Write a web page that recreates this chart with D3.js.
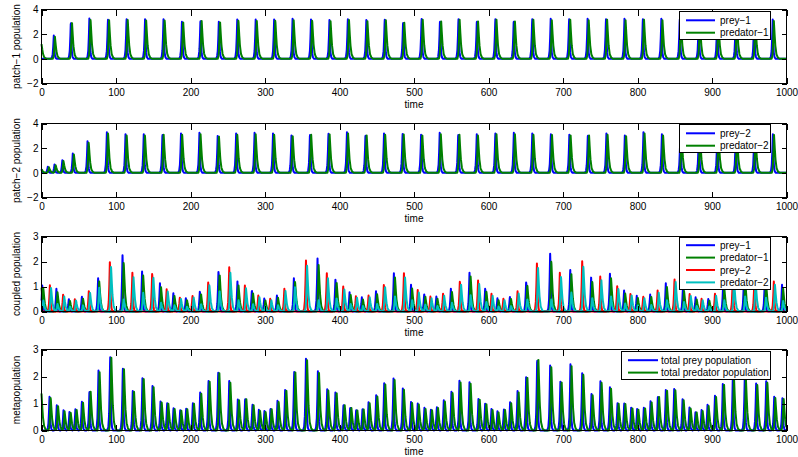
<!DOCTYPE html>
<html>
<head>
<meta charset="utf-8">
<script src="https://cdn.jsdelivr.net/npm/d3@7"></script>
<style>
  html, body { margin: 0; padding: 0; background: #fff; }
  svg { display: block; }
</style>
</head>
<body>
<svg id="chart" width="798" height="457"></svg>
<script>
// ---------------- data ----------------
const timeTicks = [0, 100, 200, 300, 400, 500, 600, 700, 800, 900, 1000];
const patchTicks = [-2, 0, 2, 4];
const coupledTicks = [0, 1, 2, 3];

// time by which each predator peak trails its prey peak
const predatorLag = 1.5;

// patch 1 (uncoupled): prey peak times and heights, predator peak heights
const p1PreyTimes = [16.5, 39.4, 64.3, 89.2, 114.2, 139.0, 163.8, 188.6, 213.4, 238.1, 262.8, 287.5, 312.3, 337.0, 361.8, 386.5, 411.2, 436.0, 460.7, 485.4, 510.2, 534.9, 559.7, 584.4, 609.2, 633.9, 658.7, 683.5, 708.2, 733.0, 757.7, 782.5, 807.2, 832.0, 856.7, 882.2, 907.0, 931.8, 956.6, 981.5];
const p1PreyPeaks = [1.89, 3.10, 3.37, 3.29, 3.32, 3.21, 3.32, 3.21, 3.29, 3.21, 3.29, 3.18, 3.29, 3.24, 3.29, 3.15, 3.32, 3.15, 3.29, 3.13, 3.35, 3.24, 3.33, 3.24, 3.33, 3.24, 3.33, 3.24, 3.33, 3.24, 3.33, 3.24, 3.33, 3.24, 3.30, 3.24, 3.30, 3.24, 3.30, 3.18];
const p1PredPeaks = [1.80, 3.00, 3.25, 3.18, 3.21, 3.10, 3.21, 3.10, 3.18, 3.10, 3.18, 3.07, 3.18, 3.13, 3.18, 3.05, 3.21, 3.05, 3.18, 3.03, 3.23, 3.13, 3.22, 3.13, 3.22, 3.13, 3.22, 3.13, 3.22, 3.13, 3.22, 3.13, 3.22, 3.13, 3.19, 3.13, 3.19, 3.13, 3.19, 3.07];
const p1PreyStart = 0;
const p1PredStart = 1.2;

// patch 2 (uncoupled)
const p2PreyTimes = [8.5, 17.5, 28, 42, 61.8, 87.8, 112.8, 137.3, 162.4, 187.3, 212, 236.6, 261.3, 286, 310.8, 335.6, 360.4, 385.2, 410, 434.9, 459.8, 484.7, 509.6, 534.5, 559.4, 584.3, 609.2, 634, 658.8, 683.7, 708.6, 733.4, 758.3, 783.1, 808, 832.8, 857.6, 882.4, 907.2, 932, 956.8, 981.7];
const p2PreyPeaks = [0.49, 0.68, 1.03, 1.57, 2.65, 3.40, 3.24, 3.24, 3.30, 3.30, 3.24, 3.20, 3.30, 3.24, 3.30, 3.24, 3.30, 3.28, 3.30, 3.24, 3.30, 3.27, 3.30, 3.24, 3.30, 3.24, 3.30, 3.24, 3.30, 3.24, 3.30, 3.24, 3.30, 3.24, 3.30, 3.24, 3.30, 3.24, 3.30, 3.24, 3.30, 3.24];
const p2PredPeaks = [0.45, 0.62, 0.95, 1.48, 2.52, 3.28, 3.13, 3.13, 3.19, 3.19, 3.13, 3.09, 3.19, 3.13, 3.19, 3.13, 3.19, 3.17, 3.19, 3.13, 3.19, 3.16, 3.19, 3.13, 3.19, 3.13, 3.19, 3.13, 3.19, 3.13, 3.19, 3.13, 3.19, 3.13, 3.19, 3.13, 3.19, 3.13, 3.19, 3.13, 3.19, 3.13];
const p2PreyStart = 0.28;
const p2PredStart = 0.3;

// coupled patches: prey-1 peaks (with predator-1 and the predator-2 response)
const cPrey1Times = [1, 20, 36.7, 54.2, 76, 108.8, 135, 159, 177, 193.8, 212.6, 237.6, 263, 282.4, 299, 316, 338.8, 370.5, 394.6, 413.5, 430, 449, 473, 496, 513.7, 530, 549.5, 574.5, 595.6, 612, 628.7, 650.6, 682.8, 709.7, 737.8, 763, 782, 799, 817, 838, 861, 878, 895, 915, 943, 971, 994];
const cPrey1Peaks = [1.04, 0.91, 0.51, 0.61, 1.33, 2.32, 1.6, 1.13, 0.73, 0.55, 0.84, 1.69, 1.2, 0.88, 0.52, 0.64, 1.37, 2.12, 1.36, 0.77, 0.57, 0.81, 1.53, 1.07, 0.71, 0.6, 0.91, 1.55, 0.97, 0.53, 0.6, 1.24, 2.39, 1.72, 1.4, 1.51, 0.84, 0.63, 0.68, 1.13, 0.95, 0.57, 0.5, 1.1, 1.5, 1.4, 1.07];
const cPred1Peaks = [0.92, 0.77, 0.43, 0.52, 1.2, 2.0, 1.44, 0.97, 0.62, 0.46, 0.72, 1.52, 1.04, 0.75, 0.44, 0.55, 1.22, 1.86, 1.2, 0.66, 0.48, 0.69, 1.36, 0.92, 0.6, 0.51, 0.78, 1.4, 0.83, 0.45, 0.51, 1.08, 2.05, 1.52, 1.22, 1.33, 0.72, 0.54, 0.58, 0.98, 0.82, 0.48, 0.43, 0.95, 1.3, 1.22, 0.92];
const cPred2AtPrey1 = [0.44, 0.3, 0.2, 0.25, 0.95, 0.5, 0.75, 0.35, 0.25, 0.2, 0.3, 0.85, 0.45, 0.3, 0.2, 0.25, 1.0, 0.45, 0.55, 0.3, 0.22, 0.3, 0.6, 0.45, 0.28, 0.22, 0.35, 0.65, 0.4, 0.2, 0.22, 0.5, 0.5, 0.77, 0.55, 0.6, 0.32, 0.24, 0.26, 0.45, 0.38, 0.22, 0.2, 0.45, 0.6, 0.55, 0.42];
const cPred1Start = 0.95;

// coupled patches: prey-2 peaks (with predator-2)
const cPrey2Times = [11.3, 29, 44.8, 63.6, 91.8, 122, 148.6, 168, 185.7, 202.7, 223.8, 252, 273, 291, 307, 326, 355, 383, 405, 422, 439, 459.6, 486.5, 505, 522, 539, 561.6, 586, 604, 620, 639, 665, 695.8, 725.8, 750, 772.8, 790.6, 807.7, 827, 849.7, 870, 886, 904, 928, 957, 983];
const cPrey2Peaks = [1.08, 0.67, 0.51, 0.87, 2.04, 1.55, 1.6, 0.89, 0.57, 0.64, 1.2, 1.77, 1.04, 0.64, 0.51, 0.91, 2.04, 1.53, 1.0, 0.61, 0.64, 1.13, 1.53, 0.86, 0.6, 0.71, 1.27, 1.24, 0.71, 0.51, 0.81, 1.92, 1.6, 2.08, 1.4, 1.04, 0.75, 0.61, 0.84, 1.33, 0.7, 0.51, 0.71, 1.5, 1.4, 1.2];
const cPred2Peaks = [0.97, 0.6, 0.45, 0.78, 1.84, 1.37, 1.42, 0.8, 0.51, 0.57, 1.08, 1.55, 0.93, 0.57, 0.45, 0.82, 1.83, 1.33, 0.88, 0.55, 0.57, 1.02, 1.36, 0.76, 0.53, 0.63, 1.13, 1.1, 0.63, 0.45, 0.72, 1.74, 1.42, 1.85, 1.25, 0.93, 0.67, 0.54, 0.75, 1.2, 0.62, 0.45, 0.63, 1.33, 1.25, 1.07];

// metapopulation totals
const mPreyTimes = [10.8, 20.6, 29.5, 37.6, 45.6, 54.2, 64.4, 76.5, 92.2, 109.2, 122.6, 135.6, 149, 159.8, 168.7, 177.2, 186.2, 194.2, 203.2, 213, 224.2, 237.2, 252, 263.6, 273.4, 283.2, 291.8, 299.3, 307.4, 316.8, 327.1, 339.2, 355, 371, 383.5, 394.6, 405.4, 414.4, 422.4, 430.9, 439, 449.3, 460, 472.5, 485, 496, 505, 514, 522.7, 530.7, 540, 550.3, 561, 574.5, 586.6, 595.6, 604, 612, 620.7, 629, 639, 650.6, 665.4, 682.8, 696.6, 710, 725.8, 738.3, 750.3, 763, 773.2, 782.2, 791.6, 799.6, 808.6, 817.5, 827.4, 838.1, 849.3, 860.5, 869.8, 877.9, 886, 894, 904, 914.6, 928, 944, 959.3, 972.8, 983.5, 994.6];
const mPreyPeaks = [1.29, 1.0, 0.75, 0.73, 0.84, 1.1, 1.54, 2.22, 2.81, 2.37, 1.56, 2.07, 1.65, 1.11, 1.05, 0.85, 0.78, 0.84, 1.05, 1.41, 1.9, 2.22, 1.83, 1.23, 1.25, 0.99, 0.79, 0.75, 0.86, 1.14, 1.6, 2.25, 2.66, 2.19, 1.53, 1.5, 1.01, 0.9, 0.81, 0.85, 1.05, 1.35, 1.75, 1.93, 1.56, 1.06, 1.0, 0.84, 0.8, 0.89, 1.12, 1.48, 1.84, 1.79, 1.25, 1.06, 0.8, 0.71, 0.81, 1.05, 1.46, 2.11, 2.78, 2.49, 1.93, 2.45, 2.19, 1.4, 1.88, 1.6, 1.05, 1.04, 0.9, 0.85, 0.9, 1.08, 1.34, 1.6, 1.59, 1.16, 0.88, 0.73, 0.76, 0.95, 1.29, 1.84, 2.05, 2.0, 1.8, 1.88, 1.25, 1.28];
const mPredPeaks = [1.24, 0.95, 0.71, 0.69, 0.8, 1.05, 1.49, 2.16, 2.74, 2.31, 1.51, 2.01, 1.6, 1.07, 1.01, 0.81, 0.74, 0.8, 1.01, 1.36, 1.84, 2.16, 1.77, 1.18, 1.2, 0.95, 0.75, 0.71, 0.82, 1.09, 1.55, 2.19, 2.6, 2.13, 1.48, 1.45, 0.97, 0.86, 0.77, 0.81, 1.01, 1.3, 1.7, 1.87, 1.51, 1.02, 0.96, 0.8, 0.76, 0.85, 1.07, 1.43, 1.78, 1.73, 1.2, 1.02, 0.76, 0.67, 0.77, 1.01, 1.41, 2.05, 2.71, 2.42, 1.87, 2.38, 2.13, 1.35, 1.82, 1.55, 1.01, 1.0, 0.86, 0.81, 0.86, 1.04, 1.29, 1.55, 1.54, 1.12, 0.84, 0.69, 0.72, 0.91, 1.24, 1.78, 1.99, 1.94, 1.74, 1.82, 1.2, 1.23];
const mPredStart = 1.37;

// ---------------- drawing ----------------
const FONT = '"Liberation Sans", Arial, Helvetica, sans-serif';
const BLUE = "#0000ff", GREEN = "#008000", RED = "#ff0000", CYAN = "#00bfbf";

// shape of one population burst around its peak (time offset -> fraction of peak)
const preyPulse = { dt: [-4, -2.5, -1.5, -0.7, 0, 0.7, 1.5, 2.5, 4], f: [0, 0.05, 0.2, 0.55, 1, 0.5, 0.15, 0.04, 0] };
const predatorPulse = { dt: [-3, -1.8, -0.9, 0, 1, 2, 3.5, 5.5, 8], f: [0, 0.1, 0.45, 1, 0.65, 0.35, 0.12, 0.03, 0] };

const STEP = 0.25;
const sampleTimes = d3.range(0, 1000 + STEP / 2, STEP);

function peaksFrom(times, heights, lag, start) {
  const p = times.map((t, i) => [t + lag, heights[i]]);
  if (start) p.unshift([0, start]);
  return p;
}

function trace(peaks, pulse) {
  const shape = d3.scaleLinear().domain(pulse.dt).range(pulse.f).clamp(true);
  const lo = pulse.dt[0], hi = pulse.dt[pulse.dt.length - 1];
  const vals = new Float64Array(sampleTimes.length);
  peaks.forEach(([tp, h]) => {
    const i0 = Math.max(0, Math.ceil((tp + lo) / STEP));
    const i1 = Math.min(sampleTimes.length - 1, Math.floor((tp + hi) / STEP));
    for (let i = i0; i <= i1; i++) {
      const v = h * shape(sampleTimes[i] - tp);
      if (v > vals[i]) vals[i] = v;
    }
  });
  return sampleTimes.map((t, i) => [t, vals[i]]);
}

const panels = [
  {
    top: 9.5, bottom: 83.5, domain: [-2, 4], ticks: patchTicks, label: "patch\u22121 population",
    series: [
      { name: "prey\u22121", color: BLUE, peaks: peaksFrom(p1PreyTimes, p1PreyPeaks, 0, p1PreyStart), pulse: preyPulse },
      { name: "predator\u22121", color: GREEN, peaks: peaksFrom(p1PreyTimes, p1PredPeaks, predatorLag, p1PredStart), pulse: predatorPulse }
    ],
    legend: { x: 679.5, y: 11.5, w: 90.5, h: 27.5, lineX: [686, 715], textX: 720, row0: 20.3 }
  },
  {
    top: 123.5, bottom: 197.5, domain: [-2, 4], ticks: patchTicks, label: "patch\u22122 population",
    series: [
      { name: "prey\u22122", color: BLUE, peaks: peaksFrom(p2PreyTimes, p2PreyPeaks, 0, p2PreyStart), pulse: preyPulse },
      { name: "predator\u22122", color: GREEN, peaks: peaksFrom(p2PreyTimes, p2PredPeaks, predatorLag, p2PredStart), pulse: predatorPulse }
    ],
    legend: { x: 679.5, y: 124.5, w: 90.5, h: 27.5, lineX: [686, 715], textX: 720, row0: 133.3 }
  },
  {
    top: 236.5, bottom: 311.5, domain: [0, 3], ticks: coupledTicks, label: "coupled population",
    series: [
      { name: "prey\u22121", color: BLUE, peaks: peaksFrom(cPrey1Times, cPrey1Peaks, 0, 0), pulse: preyPulse },
      { name: "predator\u22121", color: GREEN, peaks: peaksFrom(cPrey1Times, cPred1Peaks, predatorLag, cPred1Start), pulse: predatorPulse },
      { name: "prey\u22122", color: RED, peaks: peaksFrom(cPrey2Times, cPrey2Peaks, 0, 0), pulse: preyPulse },
      { name: "predator\u22122", color: CYAN,
        peaks: peaksFrom(cPrey2Times, cPred2Peaks, predatorLag, 0).concat(peaksFrom(cPrey1Times, cPred2AtPrey1, predatorLag, 0)),
        pulse: predatorPulse }
    ],
    legend: { x: 679.5, y: 237.5, w: 90.5, h: 51.5, lineX: [686, 715], textX: 720, row0: 245.2 }
  },
  {
    top: 349.5, bottom: 430.5, domain: [0, 3], ticks: coupledTicks, label: "metapopulation",
    series: [
      { name: "total prey population", color: BLUE, peaks: peaksFrom(mPreyTimes, mPreyPeaks, 0, 0), pulse: preyPulse },
      { name: "total predator population", color: GREEN, peaks: peaksFrom(mPreyTimes, mPredPeaks, predatorLag, mPredStart), pulse: predatorPulse }
    ],
    legend: { x: 621.5, y: 351.5, w: 148.5, h: 28, lineX: [628, 658], textX: 661, row0: 360.2 }
  }
];

const svg = d3.select("#chart");
const x = d3.scaleLinear().domain([0, 1000]).range([41.5, 786.5]);
const ROW = 12.4;
const intFormat = d3.format("d");

panels.forEach(p => {
  const y = d3.scaleLinear().domain(p.domain).range([p.bottom, p.top]);
  const g = svg.append("g");

  // series
  const line = d3.line().x(d => x(d[0])).y(d => y(d[1]));
  p.series.forEach(s => {
    g.append("path")
      .datum(trace(s.peaks, s.pulse))
      .attr("d", line)
      .attr("fill", "none")
      .attr("stroke", s.color)
      .attr("stroke-width", 2)
      .attr("stroke-linejoin", "round");
  });

  // axes: inward ticks on all four sides
  const styleAxis = sel => {
    sel.attr("font-family", FONT).attr("font-size", 10);
    sel.select(".domain").remove();
    sel.selectAll(".tick line").attr("stroke", "#000").attr("shape-rendering", "crispEdges");
    sel.selectAll(".tick text").attr("fill", "#000");
  };
  g.append("g").attr("transform", `translate(0,${p.bottom})`)
    .call(d3.axisBottom(x).tickValues(timeTicks).tickSizeInner(-6).tickSizeOuter(0).tickPadding(5).tickFormat(intFormat))
    .call(styleAxis);
  g.append("g").attr("transform", `translate(0,${p.top})`)
    .call(d3.axisTop(x).tickValues(timeTicks).tickSizeInner(-6).tickSizeOuter(0).tickFormat(() => ""))
    .call(styleAxis);
  g.append("g").attr("transform", `translate(${x.range()[0]},0)`)
    .call(d3.axisLeft(y).tickValues(p.ticks).tickSizeInner(-5).tickSizeOuter(0).tickPadding(3).tickFormat(intFormat))
    .call(styleAxis);
  g.append("g").attr("transform", `translate(${x.range()[1]},0)`)
    .call(d3.axisRight(y).tickValues(p.ticks).tickSizeInner(-5).tickSizeOuter(0).tickFormat(() => ""))
    .call(styleAxis);

  // box
  g.append("rect")
    .attr("x", x.range()[0]).attr("y", p.top)
    .attr("width", x.range()[1] - x.range()[0]).attr("height", p.bottom - p.top)
    .attr("fill", "none").attr("stroke", "#000").attr("stroke-width", 1)
    .attr("shape-rendering", "crispEdges");

  // axis titles
  g.append("text")
    .attr("x", (x.range()[0] + x.range()[1]) / 2).attr("y", p.bottom + 24.5)
    .attr("text-anchor", "middle").attr("font-family", FONT).attr("font-size", 10)
    .text("time");
  g.append("text")
    .attr("transform", `translate(19.5,${(p.top + p.bottom) / 2}) rotate(-90)`)
    .attr("text-anchor", "middle").attr("font-family", FONT).attr("font-size", 10)
    .text(p.label);

  // legend
  const L = p.legend;
  const lg = g.append("g");
  lg.append("rect").attr("x", L.x).attr("y", L.y).attr("width", L.w).attr("height", L.h)
    .attr("fill", "#fff").attr("stroke", "#000").attr("stroke-width", 1)
    .attr("shape-rendering", "crispEdges");
  p.series.forEach((s, i) => {
    const ry = L.row0 + i * ROW;
    lg.append("line").attr("x1", L.lineX[0]).attr("x2", L.lineX[1]).attr("y1", ry).attr("y2", ry)
      .attr("stroke", s.color).attr("stroke-width", 2);
    lg.append("text").attr("x", L.textX).attr("y", ry).attr("dy", "0.35em")
      .attr("font-family", FONT).attr("font-size", 10).text(s.name);
  });
});
</script>
</body>
</html>
